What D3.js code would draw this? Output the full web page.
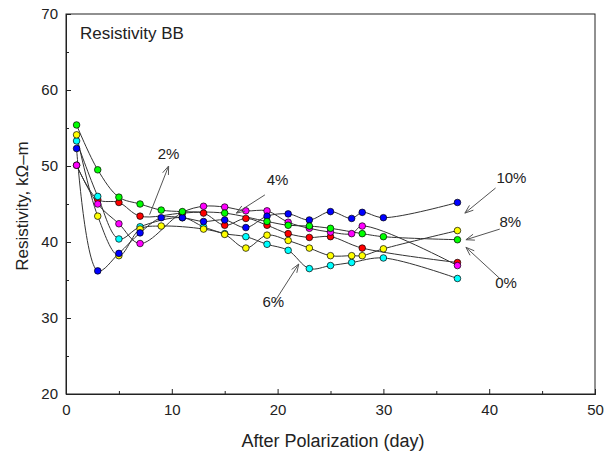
<!DOCTYPE html>
<html>
<head>
<meta charset="utf-8">
<script src="https://cdn.jsdelivr.net/npm/d3@7"></script>
<style>
  body { margin: 0; background: #fff; }
  text { font-family: Arial, "Liberation Sans", sans-serif; fill: #222; }
</style>
</head>
<body>
<div class="chart"></div>
<script>
// days + resistivity (kOhm-m) for each mix
const days0 = [1, 3, 5, 7, 9, 11, 15, 19, 21, 23, 25, 28, 30, 37];
const res0 = [55.4, 49.5, 45.9, 45.0, 44.2, 44.0, 43.8, 42.7, 42.2, 42.1, 41.8, 41.1, 40.7, 40.3];

const days2 = [1, 3, 5, 7, 11, 13, 15, 17, 19, 21, 23, 25, 28, 37];
const res2 = [50.1, 45.6, 45.2, 43.4, 43.8, 43.8, 42.2, 43.1, 42.2, 41.1, 40.6, 40.7, 39.2, 37.3];

const days4 = [1, 3, 5, 7, 11, 13, 15, 17, 19, 21, 23, 25, 27, 28, 37];
const res4 = [50.1, 45.0, 42.4, 39.8, 43.9, 44.7, 44.6, 44.1, 44.1, 42.6, 41.8, 41.3, 41.1, 42.1, 36.9];

const days6 = [1, 3, 5, 7, 11, 13, 15, 17, 19, 21, 23, 25, 27, 30, 37];
const res6 = [53.3, 46.0, 40.4, 42.0, 43.2, 42.0, 41.1, 40.7, 39.7, 38.9, 36.5, 36.9, 37.3, 37.9, 35.2];

const days8 = [1, 3, 5, 7, 9, 13, 15, 17, 19, 21, 23, 25, 27, 28, 30, 37];
const res8 = [54.1, 43.4, 38.2, 41.7, 42.1, 41.7, 41.0, 39.2, 40.9, 40.2, 39.2, 38.2, 38.2, 38.2, 39.1, 41.5];

const days10 = [1, 3, 5, 7, 9, 11, 13, 15, 17, 19, 21, 23, 25, 27, 28, 30, 37];
const res10 = [52.3, 36.2, 38.5, 41.2, 43.2, 43.2, 42.7, 42.9, 41.9, 43.4, 43.7, 42.9, 44.0, 43.1, 43.9, 43.2, 45.2];

const xTicks = [0, 10, 20, 30, 40, 50];
const yTicks = [20, 30, 40, 50, 60, 70];

// drawing order: last on top
const series = [
  { name: "2%", color: "#ff0000", days: days2, vals: res2 },
  { name: "4%", color: "#ff00ff", days: days4, vals: res4 },
  { name: "6%", color: "#00ffff", days: days6, vals: res6 },
  { name: "8%", color: "#ffff00", days: days8, vals: res8 },
  { name: "10%", color: "#0000ff", days: days10, vals: res10 },
  { name: "0%", color: "#00ff00", days: days0, vals: res0 },
];

// label text position + arrow (from, to) in data units
const notes = [
  { text: "2%", tx: 9.7, ty: 50.9, x1: 7.9, y1: 43.6, x2: 9.7, y2: 50.0 },
  { text: "4%", tx: 20.0, ty: 47.5, x1: 18.8, y1: 46.2, x2: 16.1, y2: 43.8 },
  { text: "6%", tx: 19.6, ty: 31.4, x1: 19.7, y1: 32.1, x2: 22.0, y2: 37.1 },
  { text: "10%", tx: 42.1, ty: 47.8, x1: 40.6, y1: 47.1, x2: 37.7, y2: 43.8 },
  { text: "8%", tx: 42.0, ty: 42.0, x1: 41.0, y1: 41.7, x2: 37.8, y2: 40.3 },
  { text: "0%", tx: 41.6, ty: 34.0, x1: 41.0, y1: 35.2, x2: 37.8, y2: 39.3 },
];

const width = 610;
const height = 452;
const margin = { left: 66, right: 15, top: 14, bottom: 58 };

const svg = d3
  .select(".chart")
  .append("svg")
  .attr("width", width)
  .attr("height", height);

const x = d3.scaleLinear().domain([0, 50]).range([margin.left, width - margin.right]);
const y = d3.scaleLinear().domain([20, 70]).range([height - margin.bottom, margin.top]);

// frame
svg
  .append("rect")
  .attr("x", x(0))
  .attr("y", y(70))
  .attr("width", x(50) - x(0))
  .attr("height", y(20) - y(70))
  .attr("fill", "none")
  .attr("stroke", "#222")
  .attr("stroke-width", 1);

// ticks point inside the frame
svg
  .append("g")
  .attr("transform", `translate(0,${y(20)})`)
  .call(d3.axisBottom(x).tickValues(xTicks).tickSize(-5).tickPadding(10));
svg
  .append("g")
  .attr("transform", `translate(0,${y(20)})`)
  .call(d3.axisBottom(x).tickValues([5, 15, 25, 35, 45]).tickSize(-3).tickFormat(""));

svg
  .append("g")
  .attr("transform", `translate(${x(0)},0)`)
  .call(d3.axisLeft(y).tickValues(yTicks).tickSize(-5).tickPadding(8));
svg
  .append("g")
  .attr("transform", `translate(${x(0)},0)`)
  .call(d3.axisLeft(y).tickValues([25, 35, 45, 55, 65]).tickSize(-3).tickFormat(""));

svg.selectAll(".domain").attr("stroke", "#222");
svg.selectAll(".tick line").attr("stroke", "#222");
svg.selectAll(".tick text").attr("font-size", "15px").attr("fill", "#222");

// axis titles
svg
  .append("text")
  .attr("x", 333)
  .attr("y", 447)
  .attr("text-anchor", "middle")
  .attr("font-size", "18px")
  .text("After Polarization (day)");

svg
  .append("text")
  .attr("transform", "translate(28,206) rotate(-90)")
  .attr("text-anchor", "middle")
  .attr("font-size", "17px")
  .text("Resistivity, k\u03A9\u2013m");

svg
  .append("text")
  .attr("x", 80)
  .attr("y", 39)
  .attr("font-size", "17px")
  .text("Resistivity BB");

// smoothed lines
const line = d3
  .line()
  .x((d) => x(d[0]))
  .y((d) => y(d[1]))
  .curve(d3.curveCatmullRom.alpha(0.5));

svg
  .append("g")
  .selectAll("path")
  .data(series)
  .enter()
  .append("path")
  .attr("d", (s) => line(d3.zip(s.days, s.vals)))
  .attr("fill", "none")
  .attr("stroke", "#333")
  .attr("stroke-width", 1);

// markers
series.forEach((s) => {
  svg
    .append("g")
    .selectAll("circle")
    .data(d3.zip(s.days, s.vals))
    .enter()
    .append("circle")
    .attr("cx", (d) => x(d[0]))
    .attr("cy", (d) => y(d[1]))
    .attr("r", 3.3)
    .attr("fill", s.color)
    .attr("stroke", "#000")
    .attr("stroke-width", 0.7);
});

// annotations with open arrow heads
const ann = svg.append("g");
notes.forEach((n) => {
  const ax1 = x(n.x1), ay1 = y(n.y1), ax2 = x(n.x2), ay2 = y(n.y2);
  const ang = Math.atan2(ay2 - ay1, ax2 - ax1);
  const len = 9, spread = 0.35;
  ann
    .append("line")
    .attr("x1", ax1).attr("y1", ay1)
    .attr("x2", ax2).attr("y2", ay2)
    .attr("stroke", "#555")
    .attr("stroke-width", 1);
  ann
    .append("path")
    .attr(
      "d",
      `M${ax2 - len * Math.cos(ang - spread)},${ay2 - len * Math.sin(ang - spread)}` +
        `L${ax2},${ay2}` +
        `L${ax2 - len * Math.cos(ang + spread)},${ay2 - len * Math.sin(ang + spread)}`
    )
    .attr("fill", "none")
    .attr("stroke", "#555")
    .attr("stroke-width", 1);
  ann
    .append("text")
    .attr("x", x(n.tx))
    .attr("y", y(n.ty))
    .attr("text-anchor", "middle")
    .attr("font-size", "15px")
    .text(n.text);
});
</script>
</body>
</html>
